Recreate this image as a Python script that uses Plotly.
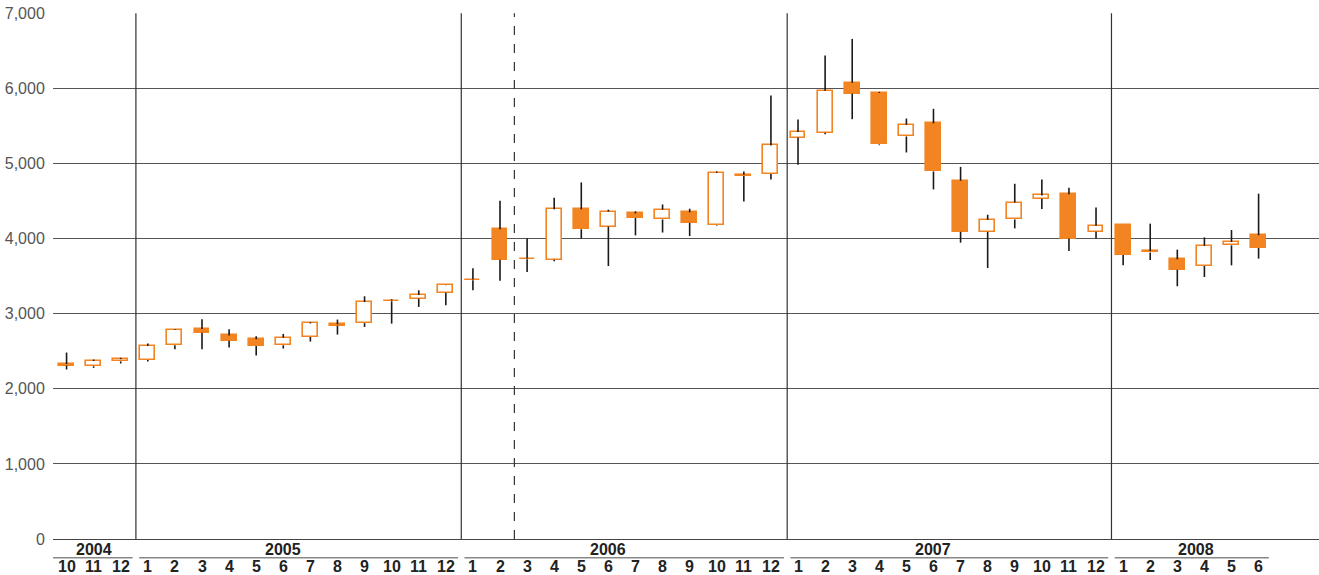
import plotly.graph_objects as go

# ---- data ----
years = ["2004", "2005", "2006", "2007", "2008"]
months = [10, 11, 12] + list(range(1, 13)) * 3 + list(range(1, 7))

opens = [2330, 2300, 2365,
         2385, 2580, 2795, 2710, 2660, 2580, 2690, 2860, 2875, 3165, 3200, 3280,
         3455, 4125, 3735, 3720, 4390, 4160, 4335, 4255, 4350, 4175, 4850, 4860,
         5345, 5410, 6075, 5940, 5360, 5535, 4770, 4090, 4255, 4530, 4590, 4090,
         4175, 3835, 3725, 3635, 3910, 4045]
closes = [2310, 2370, 2395,
          2570, 2785, 2745, 2640, 2570, 2680, 2870, 2840, 3155, 3175, 3250, 3380,
          3445, 3720, 3725, 4390, 4125, 4360, 4275, 4385, 4210, 4875, 4835, 5240,
          5420, 5970, 5930, 5255, 5515, 4895, 4090, 4250, 4480, 4575, 4000, 4170,
          3780, 3815, 3585, 3905, 3955, 3875]
highs = [2483, 2390, 2412,
         2602, 2797, 2926, 2793, 2700, 2731, 2886, 2922, 3232, 3192, 3312, 3382,
         3604, 4504, 4003, 4544, 4748, 4385, 4362, 4455, 4398, 4894, 4894, 5905,
         5586, 6437, 6659, 5954, 5599, 5728, 4955, 4318, 4730, 4788, 4677, 4415,
         4176, 4199, 3853, 4016, 4114, 4598]
lows = [2257, 2279, 2337,
        2363, 2527, 2527, 2550, 2443, 2536, 2629, 2722, 2824, 2868, 3090, 3112,
        3311, 3440, 3555, 3697, 3999, 3635, 4043, 4081, 4034, 4167, 4495, 4788,
        4984, 5390, 5590, 5244, 5147, 4655, 3946, 3608, 4136, 4393, 3834, 4000,
        3644, 3715, 3365, 3489, 3644, 3733]

# year separator positions in month-index units
year_lines = [2.56, 14.57, 26.6, 38.57]
axis_start, axis_end = -0.5, 44.5
year_label_pos = [1.0, 8.0, 20.0, 32.0, 41.7]
dashed_x = 16.53
y_ticks = [0, 1000, 2000, 3000, 4000, 5000, 6000, 7000]

ORANGE = "#F28421"
n = len(months)
idx = list(range(n))

body_lo = [min(o, c) for o, c in zip(opens, closes)]
body_hi = [max(o, c) for o, c in zip(opens, closes)]
body_h = [max(h - l, 8) for h, l in zip(body_hi, body_lo)]
body_fill = [ORANGE if c < o else "white" for o, c in zip(opens, closes)]

# wick segments (outside the body) built from the data
wx, wy = [], []
for i in idx:
    if highs[i] > body_hi[i]:
        wx += [i, i, None]
        wy += [body_hi[i], highs[i], None]
    if lows[i] < body_lo[i]:
        wx += [i, i, None]
        wy += [lows[i], body_lo[i], None]

fig = go.Figure()
fig.add_trace(go.Bar(x=idx, y=body_h, base=body_lo, width=0.55,
                     marker=dict(color=body_fill, line=dict(color=ORANGE, width=1.6)),
                     hoverinfo="skip", showlegend=False))
fig.add_trace(go.Scatter(x=wx, y=wy, mode="lines",
                         line=dict(color="#1a1a1a", width=1.6),
                         hoverinfo="skip", showlegend=False))

PLOT_H = 575 - 13 - 36

shapes = []
for b in year_lines:
    shapes.append(dict(type="line", xref="x", yref="y", x0=b, x1=b, y0=0, y1=7000,
                       line=dict(color="#333", width=1.2)))
shapes.append(dict(type="line", xref="x", yref="y", x0=dashed_x, x1=dashed_x, y0=0, y1=7000,
                   line=dict(color="#333", width=1.2, dash="dash")))
gap = 0.12
seg_bounds = [axis_start] + year_lines + [axis_end]
for k in range(len(years)):
    x0 = seg_bounds[k] + (gap if k > 0 else 0)
    x1 = seg_bounds[k + 1] - gap
    yy = -18.7 / PLOT_H
    shapes.append(dict(type="line", xref="x", yref="paper", x0=x0, x1=x1,
                       y0=yy, y1=yy, line=dict(color="#888", width=1.5)))

annotations = []
for i, m in enumerate(months):
    annotations.append(dict(x=i, y=0, xref="x", yref="paper", text=str(m),
                            showarrow=False, yanchor="middle", yshift=-27,
                            font=dict(family="Liberation Sans", size=16, color="#222", weight="bold")))
for yl, xp in zip(years, year_label_pos):
    annotations.append(dict(x=xp, y=0, xref="x", yref="paper", text=yl,
                            showarrow=False, yanchor="middle", yshift=-10,
                            font=dict(family="Liberation Sans", size=16, color="#222", weight="bold")))

fig.update_layout(
    width=1319, height=575,
    margin=dict(l=53, r=0, t=13, b=36),
    paper_bgcolor="white", plot_bgcolor="white",
    barmode="overlay", bargap=0,
    shapes=shapes, annotations=annotations,
    xaxis=dict(range=[-0.5, 46.23], showgrid=False, zeroline=False,
               showticklabels=False, ticks="", showline=False, fixedrange=True),
    yaxis=dict(range=[0, 7004], tickvals=y_ticks, tickformat=",d",
               showgrid=True, gridcolor="#555", gridwidth=1,
               zeroline=True, zerolinecolor="#444", zerolinewidth=1,
               ticks="outside", ticklen=4, tickcolor="rgba(0,0,0,0)",
               tickfont=dict(family="Liberation Sans", size=16, color="#555"),
               showline=False, fixedrange=True),
    font=dict(family="Liberation Sans"),
)

fig.write_html("out.html", config={"displayModeBar": False},
               post_script="document.body.style.margin='0';document.body.style.overflow='hidden';")
